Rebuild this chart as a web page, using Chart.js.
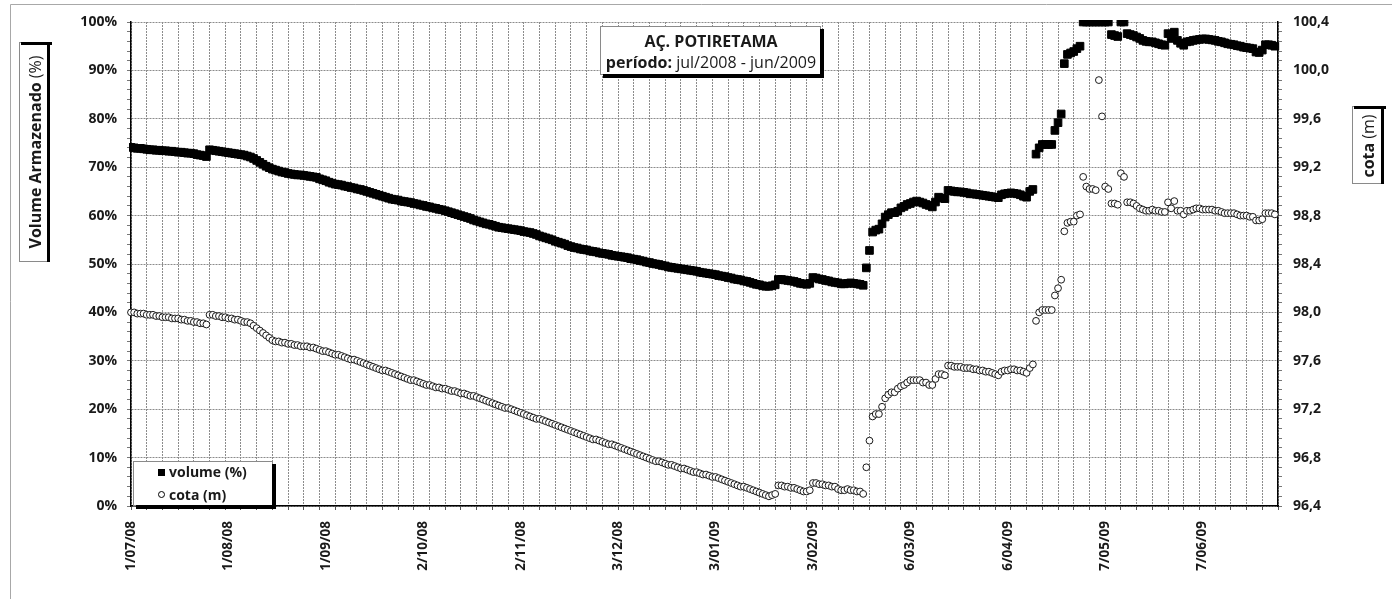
<!DOCTYPE html>
<html lang="pt">
<head>
<meta charset="utf-8">
<title>Açude Potiretama</title>
<script src="https://cdn.jsdelivr.net/npm/chart.js@4"></script>
<style>
  html, body { margin: 0; padding: 0; background: #fff; }
  #grafico { display: block; }
</style>
</head>
<body>
<canvas id="grafico" width="1392" height="599"></canvas>
<script>
// leituras diárias a partir de 1/07/08 (índice = dia)
const inicio = [2008, 6, 1];

// volume armazenado (%)
const volume = [
  74.1, 74.0, 73.9, 73.9, 73.8, 73.7, 73.6, 73.6, 73.5, 73.5,
  73.4, 73.4, 73.3, 73.3, 73.2, 73.1, 73.1, 73.0, 72.9, 72.9,
  72.8, 72.6, 72.5, 72.4, 72.2, 73.6, 73.5, 73.4, 73.3, 73.2,
  73.1, 73.0, 72.9, 72.8, 72.7, 72.6, 72.5, 72.3, 72.1, 71.8,
  71.4, 71.0, 70.6, 70.2, 69.9, 69.6, 69.4, 69.2, 69.0, 68.9,
  68.7, 68.6, 68.5, 68.4, 68.4, 68.3, 68.2, 68.1, 68.0, 67.9,
  67.6, 67.4, 67.2, 66.9, 66.7, 66.5, 66.4, 66.3, 66.1, 66.0,
  65.8, 65.7, 65.5, 65.4, 65.2, 65.0, 64.8, 64.6, 64.4, 64.2,
  64.0, 63.8, 63.6, 63.4, 63.3, 63.2, 63.0, 62.9, 62.8, 62.7,
  62.5, 62.4, 62.2, 62.1, 61.9, 61.8, 61.6, 61.5, 61.3, 61.2,
  61.0, 60.8, 60.6, 60.4, 60.2, 60.0, 59.8, 59.6, 59.4, 59.1,
  58.9, 58.7, 58.5, 58.3, 58.2, 58.0, 57.8, 57.6, 57.5, 57.4,
  57.3, 57.2, 57.1, 57.0, 56.9, 56.7, 56.6, 56.5, 56.3, 56.1,
  55.8, 55.6, 55.4, 55.2, 55.0, 54.7, 54.5, 54.3, 54.1, 53.8,
  53.6, 53.4, 53.3, 53.1, 53.0, 52.9, 52.7, 52.6, 52.5, 52.3,
  52.2, 52.1, 52.0, 51.8, 51.7, 51.6, 51.5, 51.4, 51.3, 51.1,
  51.0, 50.9, 50.7, 50.6, 50.4, 50.3, 50.1, 50.0, 49.9, 49.7,
  49.6, 49.4, 49.3, 49.2, 49.1, 49.0, 48.9, 48.8, 48.7, 48.6,
  48.5, 48.3, 48.2, 48.1, 48.0, 47.9, 47.8, 47.6, 47.5, 47.4,
  47.2, 47.1, 46.9, 46.8, 46.7, 46.5, 46.4, 46.2, 46.0, 45.8,
  45.7, 45.5, 45.4, 45.4, 45.5, 45.7, 46.8, 46.8, 46.7, 46.6,
  46.5, 46.4, 46.2, 46.0, 45.9, 45.8, 46.0, 47.2, 47.1, 46.9,
  46.8, 46.6, 46.5, 46.3, 46.2, 46.1, 45.9, 45.9, 46.0, 46.1,
  46.0, 45.9, 45.8, 45.6, 49.2, 52.8, 56.6, 57.0, 57.2, 58.3,
  59.7, 60.2, 60.6, 60.6, 60.9, 61.6, 61.9, 62.3, 62.5, 62.8,
  63.0, 62.8, 62.6, 62.3, 62.1, 61.8, 62.8, 63.8, 63.6, 63.5,
  65.2, 65.1, 65.0, 64.9, 64.9, 64.8, 64.7, 64.5, 64.5, 64.4,
  64.3, 64.2, 64.1, 64.0, 63.9, 63.8, 63.7, 64.3, 64.5, 64.6,
  64.7, 64.6, 64.5, 64.3, 64.0, 63.8, 65.0, 65.4, 72.7, 74.0,
  74.7, 74.7, 74.7, 74.7, 77.6, 79.2, 81.0, 91.4, 93.3, 93.6,
  93.9, 94.5, 95.0, 100, 100, 100, 100, 100, 100, 100,
  100, 100, 97.4, 97.2, 97.0, 100, 100, 97.6, 97.4, 97.2,
  96.9, 96.6, 96.2, 96.0, 95.9, 95.9, 95.7, 95.5, 95.3, 95.2,
  97.6, 96.6, 97.9, 96.2, 95.6, 95.2, 95.9, 96.0, 96.2, 96.3,
  96.4, 96.5, 96.5, 96.4, 96.3, 96.2, 96.0, 95.9, 95.7, 95.5,
  95.4, 95.3, 95.1, 95.0, 94.8, 94.7, 94.6, 94.5, 93.8, 93.7,
  94.2, 95.3, 95.3, 95.2, 95.0
];

// cota (m)
const cota = [
  98.00, 98.00, 97.99, 97.99, 97.99, 97.98, 97.98, 97.98, 97.97, 97.97,
  97.96, 97.96, 97.96, 97.95, 97.95, 97.95, 97.94, 97.94, 97.93, 97.93,
  97.92, 97.92, 97.91, 97.91, 97.90, 97.98, 97.98, 97.97, 97.97, 97.96,
  97.96, 97.95, 97.95, 97.94, 97.94, 97.93, 97.92, 97.92, 97.91, 97.89,
  97.87, 97.85, 97.83, 97.81, 97.79, 97.77, 97.76, 97.76, 97.75, 97.75,
  97.74, 97.74, 97.73, 97.73, 97.72, 97.72, 97.72, 97.71, 97.71, 97.70,
  97.69, 97.68, 97.68, 97.67, 97.66, 97.65, 97.65, 97.64, 97.63, 97.62,
  97.61, 97.61, 97.60, 97.59, 97.58, 97.57, 97.56, 97.55, 97.54, 97.53,
  97.52, 97.52, 97.51, 97.50, 97.49, 97.48, 97.47, 97.46, 97.45, 97.44,
  97.44, 97.43, 97.42, 97.41, 97.40, 97.40, 97.39, 97.38, 97.38, 97.37,
  97.37, 97.36, 97.35, 97.35, 97.34, 97.33, 97.33, 97.32, 97.31, 97.31,
  97.30, 97.29, 97.28, 97.27, 97.26, 97.25, 97.24, 97.23, 97.22, 97.21,
  97.21, 97.20, 97.19, 97.18, 97.17, 97.16, 97.15, 97.14, 97.13, 97.12,
  97.12, 97.11, 97.10, 97.09, 97.08, 97.07, 97.06, 97.05, 97.04, 97.03,
  97.02, 97.01, 97.00, 96.99, 96.98, 96.97, 96.96, 96.95, 96.95, 96.94,
  96.93, 96.92, 96.91, 96.91, 96.90, 96.89, 96.88, 96.87, 96.86, 96.85,
  96.84, 96.83, 96.82, 96.81, 96.80, 96.79, 96.78, 96.77, 96.77, 96.76,
  96.75, 96.74, 96.74, 96.73, 96.72, 96.71, 96.71, 96.70, 96.69, 96.68,
  96.68, 96.67, 96.66, 96.66, 96.65, 96.64, 96.64, 96.63, 96.62, 96.61,
  96.60, 96.59, 96.58, 96.57, 96.56, 96.56, 96.55, 96.54, 96.53, 96.52,
  96.51, 96.50, 96.49, 96.48, 96.49, 96.50, 96.57, 96.57, 96.56, 96.56,
  96.55, 96.55, 96.54, 96.53, 96.52, 96.52, 96.53, 96.59, 96.59, 96.58,
  96.58, 96.57, 96.57, 96.56, 96.56, 96.54, 96.53, 96.53, 96.54, 96.53,
  96.53, 96.52, 96.52, 96.50, 96.72, 96.94, 97.14, 97.16, 97.16, 97.22,
  97.29, 97.32, 97.34, 97.34, 97.37, 97.39, 97.40, 97.42, 97.44, 97.44,
  97.44, 97.44, 97.42, 97.42, 97.40, 97.40, 97.45, 97.49, 97.49, 97.48,
  97.56, 97.56, 97.55, 97.55, 97.55, 97.54, 97.54, 97.54, 97.53, 97.53,
  97.52, 97.52, 97.51, 97.51, 97.50, 97.49, 97.48, 97.51, 97.52, 97.52,
  97.53, 97.53, 97.52, 97.52, 97.51, 97.50, 97.54, 97.57, 97.93, 98.00,
  98.02, 98.02, 98.02, 98.02, 98.14, 98.20, 98.27, 98.67, 98.74, 98.75,
  98.75, 98.80, 98.81, 99.12, 99.04, 99.02, 99.02, 99.01, 99.92, 99.62,
  99.04, 99.02, 98.90, 98.90, 98.89, 99.15, 99.12, 98.91, 98.91, 98.90,
  98.88, 98.86, 98.85, 98.84, 98.84, 98.85, 98.84, 98.84, 98.83, 98.83,
  98.91, 98.86, 98.92, 98.84, 98.84, 98.81, 98.84, 98.84, 98.85, 98.86,
  98.86, 98.85, 98.85, 98.85, 98.85, 98.84, 98.84, 98.83, 98.82, 98.82,
  98.82, 98.82, 98.81, 98.80, 98.80, 98.80, 98.79, 98.79, 98.76, 98.76,
  98.77, 98.82, 98.82, 98.82, 98.81
];

// datas mostradas no eixo horizontal
const rotulosData = ['1/07/08', '1/08/08', '1/09/08', '2/10/08', '2/11/08', '3/12/08',
                     '3/01/09', '3/02/09', '6/03/09', '6/04/09', '7/05/09', '7/06/09'];

const titulo = 'AÇ. POTIRETAMA';
const periodo = 'jul/2008 - jun/2009';

// dia (a partir do início) correspondente a um rótulo d/mm/aa
function diaDe(txt) {
  const [d, m, a] = txt.split('/').map(Number);
  const t = Date.UTC(2000 + a, m - 1, d) - Date.UTC(inicio[0], inicio[1], inicio[2]);
  return Math.round(t / 86400000);
}

const rotuloPorDia = {};
rotulosData.forEach(r => { rotuloPorDia[diaDe(r)] = r; });

const FONTE = "'Open Sans', sans-serif";
const corTexto = '#1a1a1a';
const corGrade = '#8c8c8c';
const transparente = 'rgba(0,0,0,0)';

// caixa com sombra (estilo Excel)
function caixa(ctx, x, y, w, h, sombra) {
  ctx.fillStyle = '#fff';
  ctx.fillRect(x, y, w, h);
  ctx.strokeStyle = '#8a8a8a';
  ctx.lineWidth = 1;
  ctx.strokeRect(x + 0.5, y + 0.5, w - 1, h - 1);
  ctx.fillStyle = '#000';
  if (sombra === 'baixo') {
    ctx.fillRect(x + 3, y + h - 1, w, 4);
    ctx.fillRect(x + w - 1, y + 3, 4, h);
  } else { // caixa girada: sombra em cima e à direita
    ctx.fillRect(x + 2, y, w + 1, 3);
    ctx.fillRect(x + w - 2, y, 3, h);
  }
}

function textoMisto(ctx, partes, x, y, tam) {
  let total = 0;
  partes.forEach(p => { ctx.font = p[1] + ' ' + tam + 'px ' + FONTE; total += ctx.measureText(p[0]).width; });
  let cx = x - total / 2;
  partes.forEach(p => {
    ctx.font = p[1] + ' ' + tam + 'px ' + FONTE;
    ctx.fillText(p[0], cx, y);
    cx += ctx.measureText(p[0]).width;
  });
}

const moldura = {
  id: 'moldura',
  beforeDraw(chart) {
    const ctx = chart.ctx;
    ctx.save();
    ctx.fillStyle = '#fff';
    ctx.fillRect(0, 0, chart.width, chart.height);
    ctx.strokeStyle = '#a8a8a8';
    ctx.lineWidth = 1;
    ctx.beginPath();
    ctx.moveTo(10.5, chart.height);
    ctx.lineTo(10.5, 4.5);
    ctx.lineTo(chart.width, 4.5);
    ctx.stroke();
    ctx.restore();
  }
};

const anotacoes = {
  id: 'anotacoes',
  afterDraw(chart) {
    const ctx = chart.ctx;
    ctx.save();
    ctx.textBaseline = 'alphabetic';
    ctx.textAlign = 'left';

    // título
    caixa(ctx, 600, 26, 221, 49, 'baixo');
    ctx.fillStyle = corTexto;
    textoMisto(ctx, [[titulo, 'bold']], 711, 47, 16);
    textoMisto(ctx, [['período:', 'bold'], [' ' + periodo, 'normal']], 711, 68, 16);

    // título do eixo esquerdo
    caixa(ctx, 19, 42, 30, 220, 'cima');
    ctx.save();
    ctx.translate(41, 152);
    ctx.rotate(-Math.PI / 2);
    ctx.fillStyle = corTexto;
    textoMisto(ctx, [['Volume Armazenado', 'bold'], [' (%)', 'normal']], 0, 0, 16);
    ctx.restore();

    // título do eixo direito
    caixa(ctx, 1352, 106, 31, 78, 'cima');
    ctx.save();
    ctx.translate(1374, 146);
    ctx.rotate(-Math.PI / 2);
    ctx.fillStyle = corTexto;
    textoMisto(ctx, [['cota', 'bold'], [' (m)', 'normal']], 0, 0, 16);
    ctx.restore();

    // legenda
    caixa(ctx, 133, 461, 140, 45, 'baixo');
    ctx.fillStyle = '#000';
    ctx.fillRect(158, 469, 7, 7);
    ctx.beginPath();
    ctx.arc(161.5, 494.5, 3, 0, Math.PI * 2);
    ctx.fillStyle = '#fff';
    ctx.fill();
    ctx.strokeStyle = '#000';
    ctx.lineWidth = 1;
    ctx.stroke();
    ctx.fillStyle = corTexto;
    ctx.font = 'bold 14px ' + FONTE;
    ctx.fillText('volume (%)', 169, 477);
    ctx.fillText('cota (m)', 169, 500);

    ctx.restore();
  }
};

const fonteEixo = { family: FONTE, size: 14, weight: 'bold' };

new Chart(document.getElementById('grafico'), {
  type: 'scatter',
  data: {
    datasets: [
      {
        label: 'volume (%)',
        data: volume.map((v, i) => ({ x: i, y: v })),
        yAxisID: 'y',
        pointStyle: 'rect',
        pointRadius: 5.4,
        pointHoverRadius: 5.4,
        backgroundColor: '#000',
        borderColor: '#000',
        borderWidth: 1,
        clip: 2
      },
      {
        label: 'cota (m)',
        data: cota.map((v, i) => ({ x: i, y: v })),
        yAxisID: 'y2',
        pointStyle: 'circle',
        pointRadius: 3.4,
        pointHoverRadius: 3.4,
        backgroundColor: '#fff',
        borderColor: '#1a1a1a',
        borderWidth: 1,
        clip: 4
      }
    ]
  },
  options: {
    responsive: false,
    animation: false,
    layout: { padding: { top: 22, left: 0, right: 0, bottom: 0 } },
    plugins: {
      legend: { display: false },
      tooltip: { enabled: false }
    },
    scales: {
      x: {
        type: 'linear',
        min: 0,
        max: 365,
        afterBuildTicks: axis => {
          const dias = new Set(Object.keys(rotuloPorDia).map(Number));
          for (let d = 0; d <= 365; d += 5) dias.add(d);
          axis.ticks = [...dias].sort((a, b) => a - b).map(v => ({ value: v }));
        },
        afterFit: axis => { axis.height = 93; },
        grid: {
          color: c => (c.tick && c.tick.value % 5 === 0) ? corGrade : transparente,
          tickColor: c => (c.tick && c.tick.value % 5 === 0) ? '#555' : transparente,
          tickLength: 4,
          tickBorderDash: []
        },
        border: { color: '#000', width: 1.5, dash: [2, 1] },
        ticks: {
          autoSkip: false,
          maxRotation: 90,
          minRotation: 90,
          padding: 11,
          color: corTexto,
          font: { family: FONTE, size: 13.5, weight: 'bold' },
          callback: v => rotuloPorDia[v] || ''
        }
      },
      y: {
        position: 'left',
        min: 0,
        max: 100,
        afterBuildTicks: axis => {
          const t = [];
          for (let v = 0; v <= 100; v += 2) t.push({ value: v });
          axis.ticks = t;
        },
        afterFit: axis => { axis.width = 131; },
        grid: {
          color: c => (c.tick && c.tick.value % 10 === 0) ? corGrade : transparente,
          tickColor: '#777',
          tickLength: 4,
          tickBorderDash: []
        },
        border: { color: '#000', width: 1.5, dash: [2, 1] },
        ticks: {
          autoSkip: false,
          padding: 10,
          color: corTexto,
          font: fonteEixo,
          callback: v => (v % 10 === 0) ? v + '%' : ''
        }
      },
      y2: {
        position: 'right',
        min: 96.4,
        max: 100.4,
        afterBuildTicks: axis => {
          const t = [];
          for (let k = 0; k <= 50; k++) t.push({ value: Number((96.4 + k * 0.08).toFixed(2)) });
          axis.ticks = t;
        },
        afterFit: axis => { axis.width = 114; },
        grid: {
          drawOnChartArea: false,
          tickColor: '#777',
          tickLength: 4,
          tickBorderDash: []
        },
        border: { color: '#000', width: 1.5 },
        ticks: {
          autoSkip: false,
          padding: 11,
          color: corTexto,
          font: fonteEixo,
          callback: (v, i) => (i % 5 === 0) ? v.toFixed(1).replace('.', ',') : ''
        }
      }
    }
  },
  plugins: [moldura, anotacoes]
});
</script>
</body>
</html>
